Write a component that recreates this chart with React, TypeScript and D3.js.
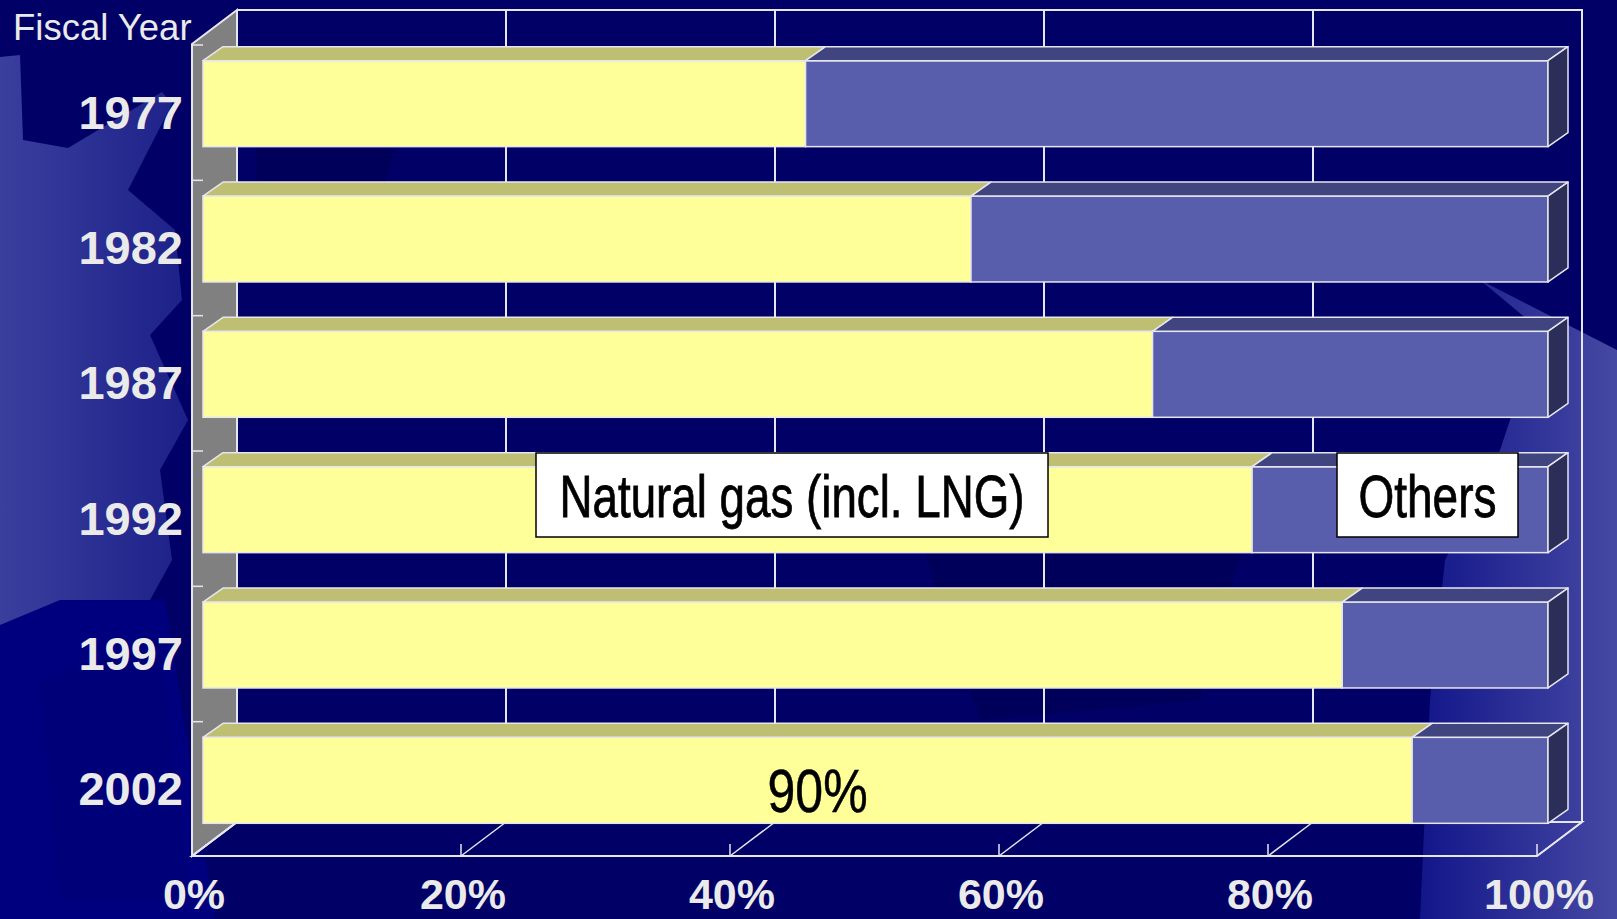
import * as d3 from 'd3'
import { useEffect, useRef } from 'react'

// categories and values (share of natural gas, %)
const years = ['1977', '1982', '1987', '1992', '1997', '2002']
const gasShare = [44.8, 57.1, 70.6, 78.0, 84.7, 89.9]
const xTicks = [0, 20, 40, 60, 80, 100]
const seriesNames = ['Natural gas (incl. LNG)', 'Others']
const barLabel = '90%'

const App = () => {
	const svgRef = useRef<SVGSVGElement>(null)

	const width = 1617
	const height = 919

	useEffect(() => {
		document.body.style.margin = '0'
		document.body.style.overflow = 'hidden'
		const svg = d3.select(svgRef.current).attr('width', width).attr('height', height)
		svg.selectAll('*').remove()

		// ************************************************************
		// background
		const defs = svg.append('defs')
		const gl = defs.append('linearGradient').attr('id', 'gl').attr('x1', 0).attr('x2', 1).attr('y1', 0).attr('y2', 0)
		gl.append('stop').attr('offset', '0%').attr('stop-color', '#3a3f9e')
		gl.append('stop').attr('offset', '100%').attr('stop-color', '#1c2088')
		const gr = defs.append('linearGradient').attr('id', 'gr').attr('x1', 0).attr('x2', 1).attr('y1', 0).attr('y2', 0)
		gr.append('stop').attr('offset', '0%').attr('stop-color', '#12168a')
		gr.append('stop').attr('offset', '100%').attr('stop-color', '#4649a2')

		svg.append('rect').attr('width', width).attr('height', height).attr('fill', '#000066')
		const bgShapes: [string, number[][]][] = [
			['#00007e', [[0, 625], [60, 600], [165, 600], [215, 919], [0, 919]]],
			['url(#gl)', [[0, 57], [20, 55], [23, 140], [68, 148], [162, 92], [172, 104], [128, 190], [175, 230], [182, 300], [150, 335], [188, 420], [160, 470], [172, 560], [150, 600], [60, 600], [0, 625]]],
			['url(#gr)', [[1480, 280], [1617, 350], [1617, 919], [1420, 919], [1430, 700], [1445, 560], [1500, 450], [1540, 330]]],
			['#00005a', [[250, 60], [420, 60], [380, 200], [260, 230]]],
			['#00005a', [[900, 480], [1250, 520], [1200, 700], [980, 720]]],
			['#000078', [[40, 680], [160, 640], [190, 900], [60, 900]]],
		]
		svg.append('g')
			.selectAll('polygon')
			.data(bgShapes)
			.join('polygon')
			.attr('points', (d) => d[1].map((p) => p.join(',')).join(' '))
			.attr('fill', (d) => d[0])

		// ************************************************************
		// scales
		const x = d3.scaleLinear().domain([0, 100]).range([192, 1537])
		const y = d3.scaleBand().domain(years).range([44, 856]).paddingInner(0.365).paddingOuter(0.1825)
		const top = 44
		const bottom = 856
		const wall = { dx: 45, dy: -34 }
		const front = { dx: 11, dy: -8 }
		const depth = { dx: 20, dy: -14 }
		const lineCol = '#e6e6ee'

		const g = svg.append('g')

		// back wall grid
		g.append('g')
			.selectAll('line')
			.data(xTicks)
			.join('line')
			.attr('x1', (d) => x(d) + wall.dx)
			.attr('x2', (d) => x(d) + wall.dx)
			.attr('y1', top + wall.dy)
			.attr('y2', bottom + wall.dy)
			.attr('stroke', lineCol)
			.attr('stroke-width', 2)
		g.append('path')
			.attr('d', `M${x(0) + wall.dx},${top + wall.dy}H${x(100) + wall.dx}V${bottom + wall.dy}`)
			.attr('fill', 'none')
			.attr('stroke', lineCol)
			.attr('stroke-width', 2)

		// side wall
		g.append('polygon')
			.attr('points', [[x(0), top], [x(0) + wall.dx, top + wall.dy], [x(0) + wall.dx, bottom + wall.dy], [x(0), bottom]].map((p) => p.join(',')).join(' '))
			.attr('fill', '#808080')
			.attr('stroke', lineCol)
			.attr('stroke-width', 2)

		// floor
		g.append('polygon')
			.attr('points', [[x(0), bottom], [x(0) + wall.dx, bottom + wall.dy], [x(100) + wall.dx, bottom + wall.dy], [x(100), bottom]].map((p) => p.join(',')).join(' '))
			.attr('fill', 'none')
			.attr('stroke', lineCol)
			.attr('stroke-width', 2)
		g.append('g')
			.selectAll('line')
			.data(xTicks)
			.join('line')
			.attr('x1', (d) => x(d))
			.attr('x2', (d) => x(d) + wall.dx)
			.attr('y1', bottom)
			.attr('y2', bottom + wall.dy)
			.attr('stroke', lineCol)
			.attr('stroke-width', 1.5)
		g.append('g')
			.selectAll('line')
			.data(xTicks.slice(1))
			.join('line')
			.attr('x1', (d) => x(d))
			.attr('x2', (d) => x(d))
			.attr('y1', bottom)
			.attr('y2', bottom - 12)
			.attr('stroke', lineCol)
			.attr('stroke-width', 1.5)

		// category ticks on the side wall
		g.append('g')
			.selectAll('line')
			.data(years)
			.join('line')
			.attr('x1', x(0))
			.attr('x2', x(0) + 11)
			.attr('y1', (d) => y(d)! - (y.step() - y.bandwidth()) / 2 + 1)
			.attr('y2', (d) => y(d)! - (y.step() - y.bandwidth()) / 2 + 1)
			.attr('stroke', lineCol)
			.attr('stroke-width', 1.5)

		// ************************************************************
		// bars
		const colors = [
			{ front: '#ffff99', top: '#bfbf73', side: '#8f8f50' },
			{ front: '#585dac', top: '#40447f', side: '#2c2e5a' },
		]
		const bars = g.append('g')
		years.forEach((yr, i) => {
			const yf = y(yr)! + front.dy
			const h = y.bandwidth()
			const segs = [
				[0, gasShare[i]],
				[gasShare[i], 100],
			]
			segs.forEach(([a, b], k) => {
				const x0 = x(a) + front.dx
				const x1 = x(b) + front.dx
				bars.append('rect')
					.attr('x', x0)
					.attr('y', yf)
					.attr('width', x1 - x0)
					.attr('height', h)
					.attr('fill', colors[k].front)
					.attr('stroke', lineCol)
					.attr('stroke-width', 1.5)
				bars.append('polygon')
					.attr('points', [[x0, yf], [x0 + depth.dx, yf + depth.dy], [x1 + depth.dx, yf + depth.dy], [x1, yf]].map((p) => p.join(',')).join(' '))
					.attr('fill', colors[k].top)
					.attr('stroke', lineCol)
					.attr('stroke-width', 1.5)
					.attr('stroke-linejoin', 'round')
				if (k === segs.length - 1) {
					bars.append('polygon')
						.attr('points', [[x1, yf], [x1 + depth.dx, yf + depth.dy], [x1 + depth.dx, yf + h + depth.dy], [x1, yf + h]].map((p) => p.join(',')).join(' '))
						.attr('fill', colors[k].side)
						.attr('stroke', lineCol)
						.attr('stroke-width', 1.5)
						.attr('stroke-linejoin', 'round')
				}
			})
		})

		const narrow = '"Liberation Sans Narrow", "Arial Narrow", "Liberation Sans", Arial, sans-serif'

		// data label on the last bar
		const last = years.length - 1
		g.append('text')
			.attr('x', (x(0) + x(gasShare[last])) / 2 + front.dx + depth.dx / 2)
			.attr('y', y(years[last])! + front.dy + y.bandwidth() / 2 + 32)
			.attr('text-anchor', 'middle')
			.attr('font-family', narrow)
			.attr('font-size', 61)
			.attr('textLength', 100)
			.attr('lengthAdjust', 'spacingAndGlyphs')
			.attr('fill', '#000')
			.attr('stroke', '#000')
			.attr('stroke-width', 0.5)
			.text(barLabel)

		// ************************************************************
		// axes labels
		const font = '"Liberation Sans", Arial, sans-serif'
		g.append('g')
			.selectAll('text')
			.data(years)
			.join('text')
			.attr('x', 183)
			.attr('y', (d) => y(d)! + y.bandwidth() / 2 + 17)
			.attr('text-anchor', 'end')
			.attr('font-family', font)
			.attr('font-weight', 'bold')
			.attr('font-size', 47)
			.attr('fill', '#eaeaea')
			.text((d) => d)
		g.append('g')
			.selectAll('text')
			.data(xTicks)
			.join('text')
			.attr('x', (d) => x(d) + 2)
			.attr('y', 909)
			.attr('text-anchor', 'middle')
			.attr('font-family', font)
			.attr('font-weight', 'bold')
			.attr('font-size', 43)
			.attr('fill', '#eaeaea')
			.text((d) => `${d}%`)
		g.append('text')
			.attr('x', 13)
			.attr('y', 40)
			.attr('font-family', font)
			.attr('font-size', 36.5)
			.attr('fill', '#eaeaea')
			.text('Fiscal Year')

		// ************************************************************
		// series labels
		const boxes = [
			{ x: 536, y: 453, w: 512, h: 84, tl: 465 },
			{ x: 1337, y: 453, w: 181, h: 84, tl: 138 },
		]
		const lg = g.append('g')
		boxes.forEach((b, i) => {
			lg.append('rect')
				.attr('x', b.x)
				.attr('y', b.y)
				.attr('width', b.w)
				.attr('height', b.h)
				.attr('fill', '#fff')
				.attr('stroke', '#000')
				.attr('stroke-width', 1.5)
			lg.append('text')
				.attr('x', b.x + b.w / 2)
				.attr('y', b.y + b.h / 2 + 22)
				.attr('text-anchor', 'middle')
				.attr('font-family', narrow)
				.attr('font-size', 60)
				.attr('textLength', b.tl)
				.attr('lengthAdjust', 'spacingAndGlyphs')
				.attr('fill', '#000')
				.attr('stroke', '#000')
				.attr('stroke-width', 0.8)
				.text(seriesNames[i])
		})
	}, [])

	return (
		<>
			<svg ref={svgRef} style={{ position: 'absolute', left: 0, top: 0, display: 'block' }}></svg>
		</>
	)
}

export default App
